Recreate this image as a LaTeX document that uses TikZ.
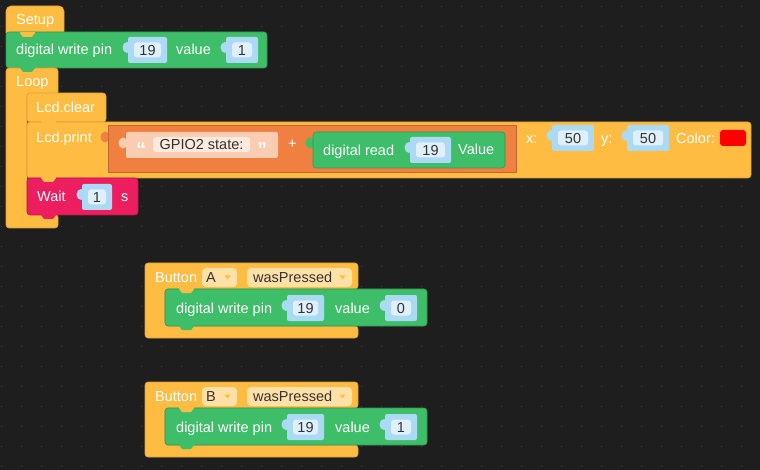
\documentclass[tikz,border=0pt]{standalone}
\usepackage{fontspec}
\setmainfont{Liberation Sans}
\usepackage{xcolor}
\definecolor{blkBg}{RGB}{30,30,30}
\definecolor{blkDot}{RGB}{66,66,66}
\definecolor{blkHat}{RGB}{255,188,66}
\definecolor{blkGreen}{RGB}{62,190,104}
\definecolor{blkPink}{RGB}{236,30,96}
\definecolor{blkSlot}{RGB}{172,218,244}
\definecolor{blkField}{RGB}{224,240,250}
\definecolor{blkJoin}{RGB}{240,128,64}
\definecolor{blkStr}{RGB}{250,204,178}
\definecolor{blkStrField}{RGB}{253,234,222}
\definecolor{blkDrop}{RGB}{255,224,166}
\definecolor{blkText}{RGB}{51,51,51}

\tikzset{
  lbl/.style={text=white, anchor=west, inner sep=0pt, text height=10.4pt, text depth=0pt, font=\fontsize{14.5}{16}\selectfont},
  fld/.style={fill=blkField, rounded corners=3pt, inner sep=0pt, minimum height=15pt, text=blkText, text height=10.4pt, text depth=0pt, font=\fontsize{14.5}{16}\selectfont},
  blk/.style={rounded corners=3pt, line width=0.6pt},
}

% value socket: name, bump x, top y, field width, text
\newcommand{\valslot}[5]{%
  \fill[blkSlot] (#2+5,#3+10.5) ellipse (4.5 and 5.5);
  \fill[blkSlot, rounded corners=2pt] (#2+6,#3) rectangle (#2+18+#4,#3+26);
  \node[fld, minimum width=#4pt] (#1) at (#2+12+#4/2,#3+13) {#5};}
% tab under a statement block: left x, bottom y, colour
\newcommand{\blktab}[3]{%
  \fill[#3] (#1+14,#2-0.8) -- (#1+14,#2) -- (#1+17,#2+4) -- (#1+26,#2+4) -- (#1+29,#2) -- (#1+29,#2-0.8) -- cycle;}

\begin{document}
\begin{tikzpicture}[x=1pt, y=-1pt]
  \useasboundingbox (0,0) rectangle (760,470);
  \fill[blkBg] (0,0) rectangle (760,470);
  \foreach \i in {0,...,37}
    \foreach \j in {0,...,23}
      \fill[blkDot] (1+20*\i,6+20*\j) rectangle +(1.3,1.3);

  % setup stack
  \draw[blk, rounded corners=5pt, fill=blkHat, draw=blkHat!85!black] (6,6) rectangle (64,38);
  \draw[blk, fill=blkGreen, draw=blkGreen!80!black] (6,32) rectangle (267,68);
  \draw[blk, fill=blkHat, draw=blkHat!85!black] (6,68) -- (58,68) -- (58,95) -- (27,95) -- (27,214) -- (58,214) -- (58,228) -- (6,228) -- cycle;
  \draw[blk, fill=blkHat, draw=blkHat!85!black] (27,93) rectangle (106,122);
  \draw[blk, fill=blkHat, draw=blkHat!85!black] (27,122) rectangle (751,178);
  \draw[blk, fill=blkPink, draw=blkPink!80!black] (27,178) rectangle (138,215);
  \blktab{6}{33}{blkHat}
  \blktab{6}{68}{blkGreen}
  \blktab{27}{95}{blkHat}
  \blktab{27}{122}{blkHat}
  \blktab{27}{178}{blkHat}
  \blktab{27}{215}{blkPink}

  \node[lbl] (setupTxt) at (16,19.5) {Setup};
  \node[lbl] (setWrite) at (16,49.5) {digital write pin};
  \valslot{setPin}{122}{37}{27}{19}
  \node[lbl] (setValue) at (176,49.5) {value};
  \valslot{setVal}{220}{37}{20}{1}
  \node[lbl] (loopTxt) at (16,81.5) {Loop};
  \node[lbl] (clearTxt) at (36,107.5) {Lcd.clear};
  \node[lbl] (printTxt) at (36,137.5) {Lcd.print};

  % text join
  \fill[blkJoin] (105,137) ellipse (4.5 and 5.5);
  \draw[blkJoin!80!black, fill=blkJoin, line width=1pt] (108,126) rectangle (516,173);
  \fill[blkStr] (123,143) ellipse (4.5 and 5.5);
  \fill[blkStr, rounded corners=2pt] (126,132) rectangle (278,158);
  \node[lbl, anchor=base west, text=white!95!blkStr, font=\bfseries\fontsize{20}{20}\selectfont] (qOpen) at (136,156.5) {“};
  \node[fld, fill=blkStrField, minimum width=97pt] (strTxt) at (201.5,144.5) {GPIO2 state:};
  \node[lbl, anchor=base west, text=white!95!blkStr, font=\bfseries\fontsize{20}{20}\selectfont] (qClose) at (257,156.5) {”};
  \node[lbl] (plusTxt) at (288,143) {+};
  \fill[blkGreen] (310,143) ellipse (4.5 and 5.5);
  \draw[blk, fill=blkGreen, draw=blkGreen!80!black] (313,132) rectangle (505,168);
  \node[lbl] (readTxt) at (323,150) {digital read};
  \valslot{readPin}{404}{137}{29}{19}
  \node[lbl] (readVal) at (458,149.5) {Value};

  \node[lbl] (xTxt) at (526,138) {x:};
  \valslot{posX}{546}{125}{30}{50}
  \node[lbl] (yTxt) at (601,138) {y:};
  \valslot{posY}{621}{125}{30}{50}
  \node[lbl] (colTxt) at (676,138) {Color:};
  \fill[red, rounded corners=3pt] (720,130) rectangle (746,146);

  \node[lbl] (waitTxt) at (37,196) {Wait};
  \valslot{waitSec}{76}{184}{18}{1}
  \node[lbl] (secTxt) at (121,196) {s};

  % button events
  \foreach \dy/\btn/\val in {0/A/0, 119/B/1} {
    \draw[blk, fill=blkHat, draw=blkHat!85!black] (145,263+\dy) -- (358,263+\dy) -- (358,289+\dy) -- (165,289+\dy) -- (165,326+\dy) -- (358,326+\dy) -- (358,338+\dy) -- (145,338+\dy) -- cycle;
    \draw[blk, fill=blkGreen, draw=blkGreen!80!black] (165,289+\dy) rectangle (427,326+\dy);
    \blktab{165}{289+\dy}{blkHat}
    \blktab{165}{326+\dy}{blkGreen}
    \node[lbl] (btnTxt\btn) at (155,277.5+\dy) {Button};
    \fill[blkDrop, rounded corners=4pt] (202,268+\dy) rectangle (237,287+\dy);
    \node[lbl, text=blkText] (key\btn) at (206,277.5+\dy) {\btn};
    \fill[blkHat] (224.5,275.5+\dy) -- (230.5,275.5+\dy) -- (227.5,279.5+\dy) -- cycle;
    \fill[blkDrop, rounded corners=4pt] (247,268+\dy) rectangle (352,287+\dy);
    \node[lbl, text=blkText] (evt\btn) at (253,277.5+\dy) {wasPressed};
    \fill[blkHat] (339.5,275.5+\dy) -- (345.5,275.5+\dy) -- (342.5,279.5+\dy) -- cycle;
    \node[lbl] (btnWrite\btn) at (176,308+\dy) {digital write pin};
    \valslot{btnPin\btn}{281}{295+\dy}{25}{19}
    \node[lbl] (btnValue\btn) at (335,308+\dy) {value};
    \valslot{btnVal\btn}{379}{295+\dy}{20}{\val}
  }
\end{tikzpicture}
\end{document}
